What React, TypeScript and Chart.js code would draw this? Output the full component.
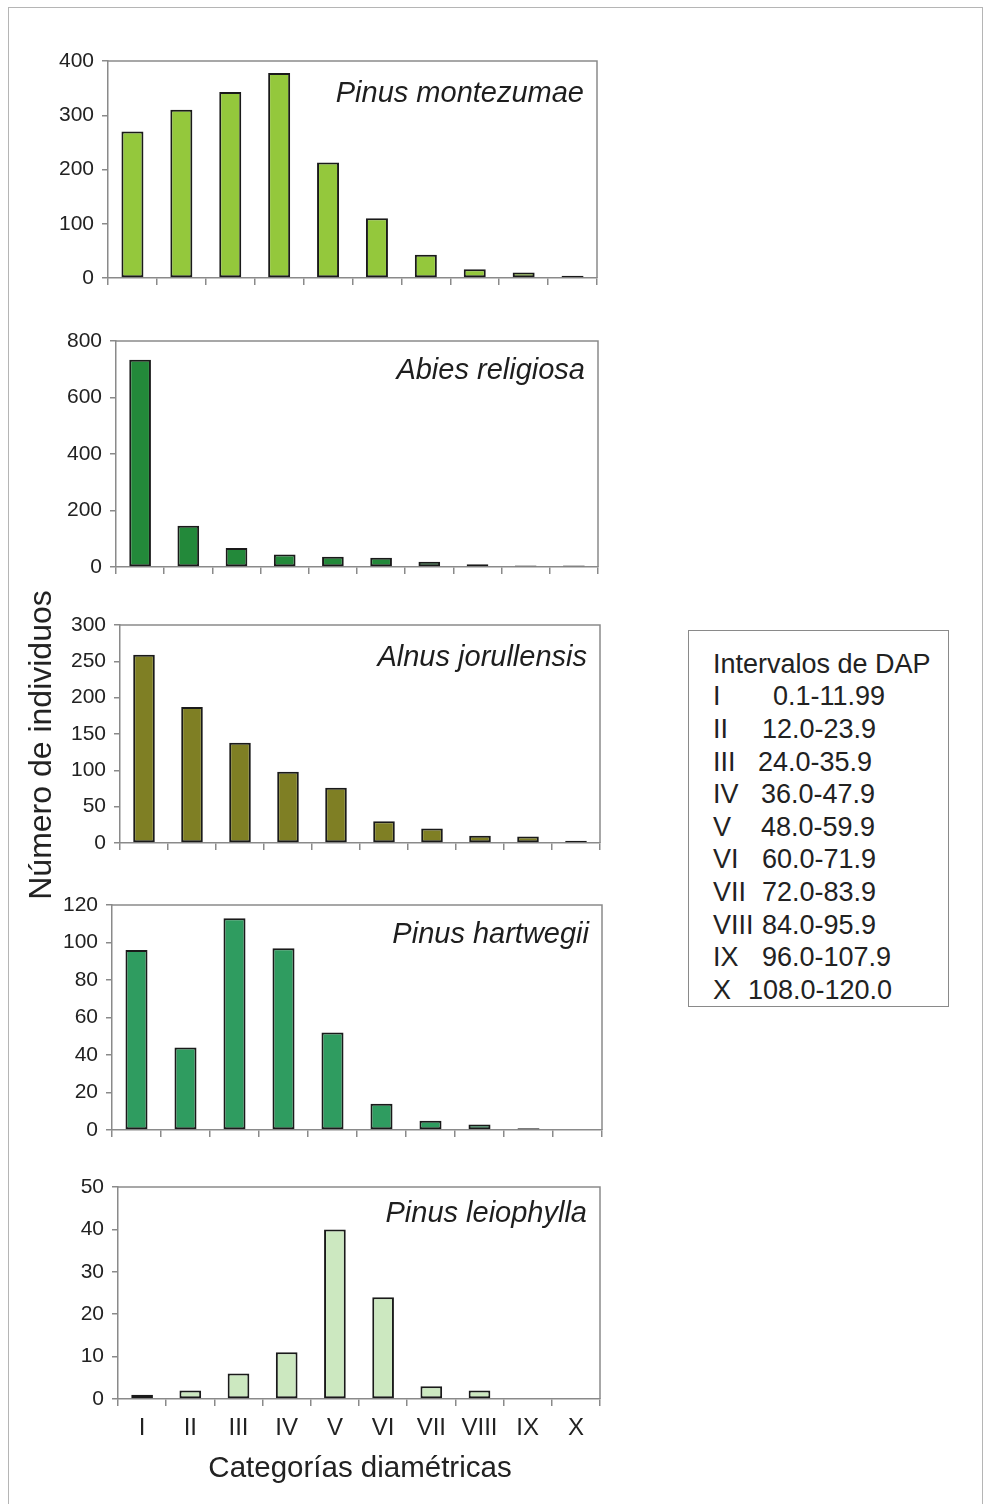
import React, { useEffect, useRef } from "react";
import { Chart, registerables } from "chart.js";

Chart.register(...registerables);

const categories = ["I", "II", "III", "IV", "V", "VI", "VII", "VIII", "IX", "X"];

const montezumae = [270, 310, 343, 378, 213, 110, 43, 16, 10, 4];
const religiosa = [734, 146, 67, 44, 36, 33, 19, 10, 5, 5];
const jorullensis = [259, 187, 138, 98, 76, 30, 20, 10, 9, 3];
const hartwegii = [96, 44, 113, 97, 52, 14, 5, 3, 1, 0];
const leiophylla = [1, 2, 6, 11, 40, 24, 3, 2, 0, 0];

const speciesNames = [
  "Pinus montezumae",
  "Abies religiosa",
  "Alnus jorullensis",
  "Pinus hartwegii",
  "Pinus leiophylla",
];
const yMaxes = [400, 800, 300, 120, 50];
const ySteps = [100, 200, 50, 20, 10];
const barColors = ["#94c83c", "#23893a", "#7f7f24", "#2f9c60", "#cce8c0"];

const legendTitle = "Intervalos de DAP";
const legendRomans = ["I", "II", "III", "IV", "V", "VI", "VII", "VIII", "IX", "X"];
const legendRanges = [
  "0.1-11.99",
  "12.0-23.9",
  "24.0-35.9",
  "36.0-47.9",
  "48.0-59.9",
  "60.0-71.9",
  "72.0-83.9",
  "84.0-95.9",
  "96.0-107.9",
  "108.0-120.0",
];

const yAxisTitle = "Número de individuos";
const xAxisTitle = "Categorías diamétricas";

// layout (pixel geometry of each panel's plot area)
const panelBoxes = [
  { left: 108, right: 597, top: 61, zero: 278, titleDy: 33 },
  { left: 116, right: 598, top: 341, zero: 567, titleDy: 30 },
  { left: 120, right: 600, top: 625, zero: 843, titleDy: 33 },
  { left: 112, right: 602, top: 905, zero: 1130, titleDy: 30 },
  { left: 118, right: 600, top: 1187, zero: 1399, titleDy: 27 },
];
const seriesList = [montezumae, religiosa, jorullensis, hartwegii, leiophylla];
const legendRangeX = [773, 762, 758, 761, 761, 762, 762, 762, 762, 748];

const FONT = "'Liberation Sans', Arial, sans-serif";
const PAD_TOP = 26;
const PAD_RIGHT = 14;

function Panel({ idx }: { idx: number }) {
  const ref = useRef<HTMLCanvasElement | null>(null);
  const box = panelBoxes[idx];
  const isLast = idx === panelBoxes.length - 1;
  const xHeight = isLast ? 50 : 26;
  const width = box.right + PAD_RIGHT;
  const height = PAD_TOP + (box.zero - box.top) + xHeight;

  useEffect(() => {
    if (!ref.current) return;
    const framePlugin = {
      id: "frame" + idx,
      afterDraw(chart: any) {
        const { ctx, chartArea } = chart;
        ctx.save();
        ctx.strokeStyle = "#8a8a8a";
        ctx.lineWidth = 1.5;
        ctx.beginPath();
        ctx.moveTo(chartArea.left, chartArea.top);
        ctx.lineTo(chartArea.right, chartArea.top);
        ctx.lineTo(chartArea.right, chartArea.bottom);
        ctx.stroke();
        ctx.fillStyle = "#1e1e1e";
        ctx.font = "italic 29px " + FONT;
        ctx.textAlign = "right";
        ctx.textBaseline = "middle";
        ctx.fillText(speciesNames[idx], chartArea.right - 13, chartArea.top + box.titleDy);
        ctx.restore();
      },
    };
    const chart = new Chart(ref.current, {
      type: "bar",
      data: {
        labels: categories,
        datasets: [
          {
            data: seriesList[idx],
            backgroundColor: barColors[idx],
            borderColor: "#1a1a1a",
            borderWidth: 2,
            borderSkipped: false,
            barPercentage: 0.45,
            categoryPercentage: 1,
          },
        ],
      },
      options: {
        responsive: false,
        animation: false,
        devicePixelRatio: 1,
        layout: { padding: { top: PAD_TOP, right: PAD_RIGHT, left: 0, bottom: 0 } },
        plugins: { legend: { display: false }, tooltip: { enabled: false }, title: { display: false } },
        scales: {
          x: {
            offset: true,
            grid: {
              offset: true,
              drawOnChartArea: false,
              drawTicks: true,
              tickLength: 7,
              color: "#8a8a8a",
              lineWidth: 1.5,
            },
            border: { display: true, color: "#8a8a8a", width: 1.5 },
            ticks: {
              display: isLast,
              padding: 8,
              color: "#222",
              font: { family: FONT, size: 24 },
              maxRotation: 0,
              autoSkip: false,
            },
            afterFit(scale: any) {
              scale.height = xHeight;
            },
          },
          y: {
            min: 0,
            max: yMaxes[idx],
            grid: {
              drawOnChartArea: false,
              drawTicks: true,
              tickLength: 6,
              color: "#8a8a8a",
              lineWidth: 1.5,
            },
            border: { display: true, color: "#8a8a8a", width: 1.5 },
            ticks: {
              stepSize: ySteps[idx],
              padding: 8,
              color: "#222",
              font: { family: FONT, size: 21 },
            },
            afterFit(scale: any) {
              scale.width = box.left;
            },
          },
        },
      },
      plugins: [framePlugin],
    });
    return () => chart.destroy();
  }, []);

  return (
    <canvas
      ref={ref}
      width={width}
      height={height}
      style={{ position: "absolute", left: 0, top: box.top - PAD_TOP, width, height }}
    />
  );
}

export default function App() {
  const lineH = 32.6;
  const legendFont = 27;
  return (
    <div
      style={{
        position: "absolute",
        left: 0,
        top: 0,
        width: 984,
        height: 1504,
        background: "#fff",
        fontFamily: FONT,
        color: "#222",
        overflow: "hidden",
      }}
    >
      <div
        style={{
          position: "absolute",
          left: 8,
          top: 7,
          width: 975,
          height: 1500,
          border: "1px solid #b5b5b5",
          boxSizing: "border-box",
        }}
      />
      {panelBoxes.map((_, i) => (
        <Panel key={i} idx={i} />
      ))}
      <div
        style={{
          position: "absolute",
          left: 40 - 200,
          top: 745 - 20,
          width: 400,
          height: 40,
          lineHeight: "40px",
          textAlign: "center",
          fontSize: 32,
          transform: "rotate(-90deg)",
          whiteSpace: "nowrap",
        }}
      >
        {yAxisTitle}
      </div>
      <div
        style={{
          position: "absolute",
          left: 360 - 200,
          top: 1467 - 20,
          width: 400,
          height: 40,
          lineHeight: "40px",
          textAlign: "center",
          fontSize: 29.5,
          whiteSpace: "nowrap",
        }}
      >
        {xAxisTitle}
      </div>
      <div
        style={{
          position: "absolute",
          left: 688,
          top: 630,
          width: 261,
          height: 377,
          border: "1px solid #8a8a8a",
          boxSizing: "border-box",
        }}
      />
      <div
        style={{
          position: "absolute",
          left: 713,
          top: 664 - lineH / 2,
          height: lineH,
          lineHeight: lineH + "px",
          fontSize: legendFont,
          whiteSpace: "nowrap",
        }}
      >
        {legendTitle}
      </div>
      {legendRomans.map((r, i) => (
        <React.Fragment key={r}>
          <div
            style={{
              position: "absolute",
              left: 713,
              top: 664 + (i + 1) * lineH - lineH / 2,
              height: lineH,
              lineHeight: lineH + "px",
              fontSize: legendFont,
              whiteSpace: "nowrap",
            }}
          >
            {r}
          </div>
          <div
            style={{
              position: "absolute",
              left: legendRangeX[i],
              top: 664 + (i + 1) * lineH - lineH / 2,
              height: lineH,
              lineHeight: lineH + "px",
              fontSize: legendFont,
              whiteSpace: "nowrap",
            }}
          >
            {legendRanges[i]}
          </div>
        </React.Fragment>
      ))}
    </div>
  );
}
